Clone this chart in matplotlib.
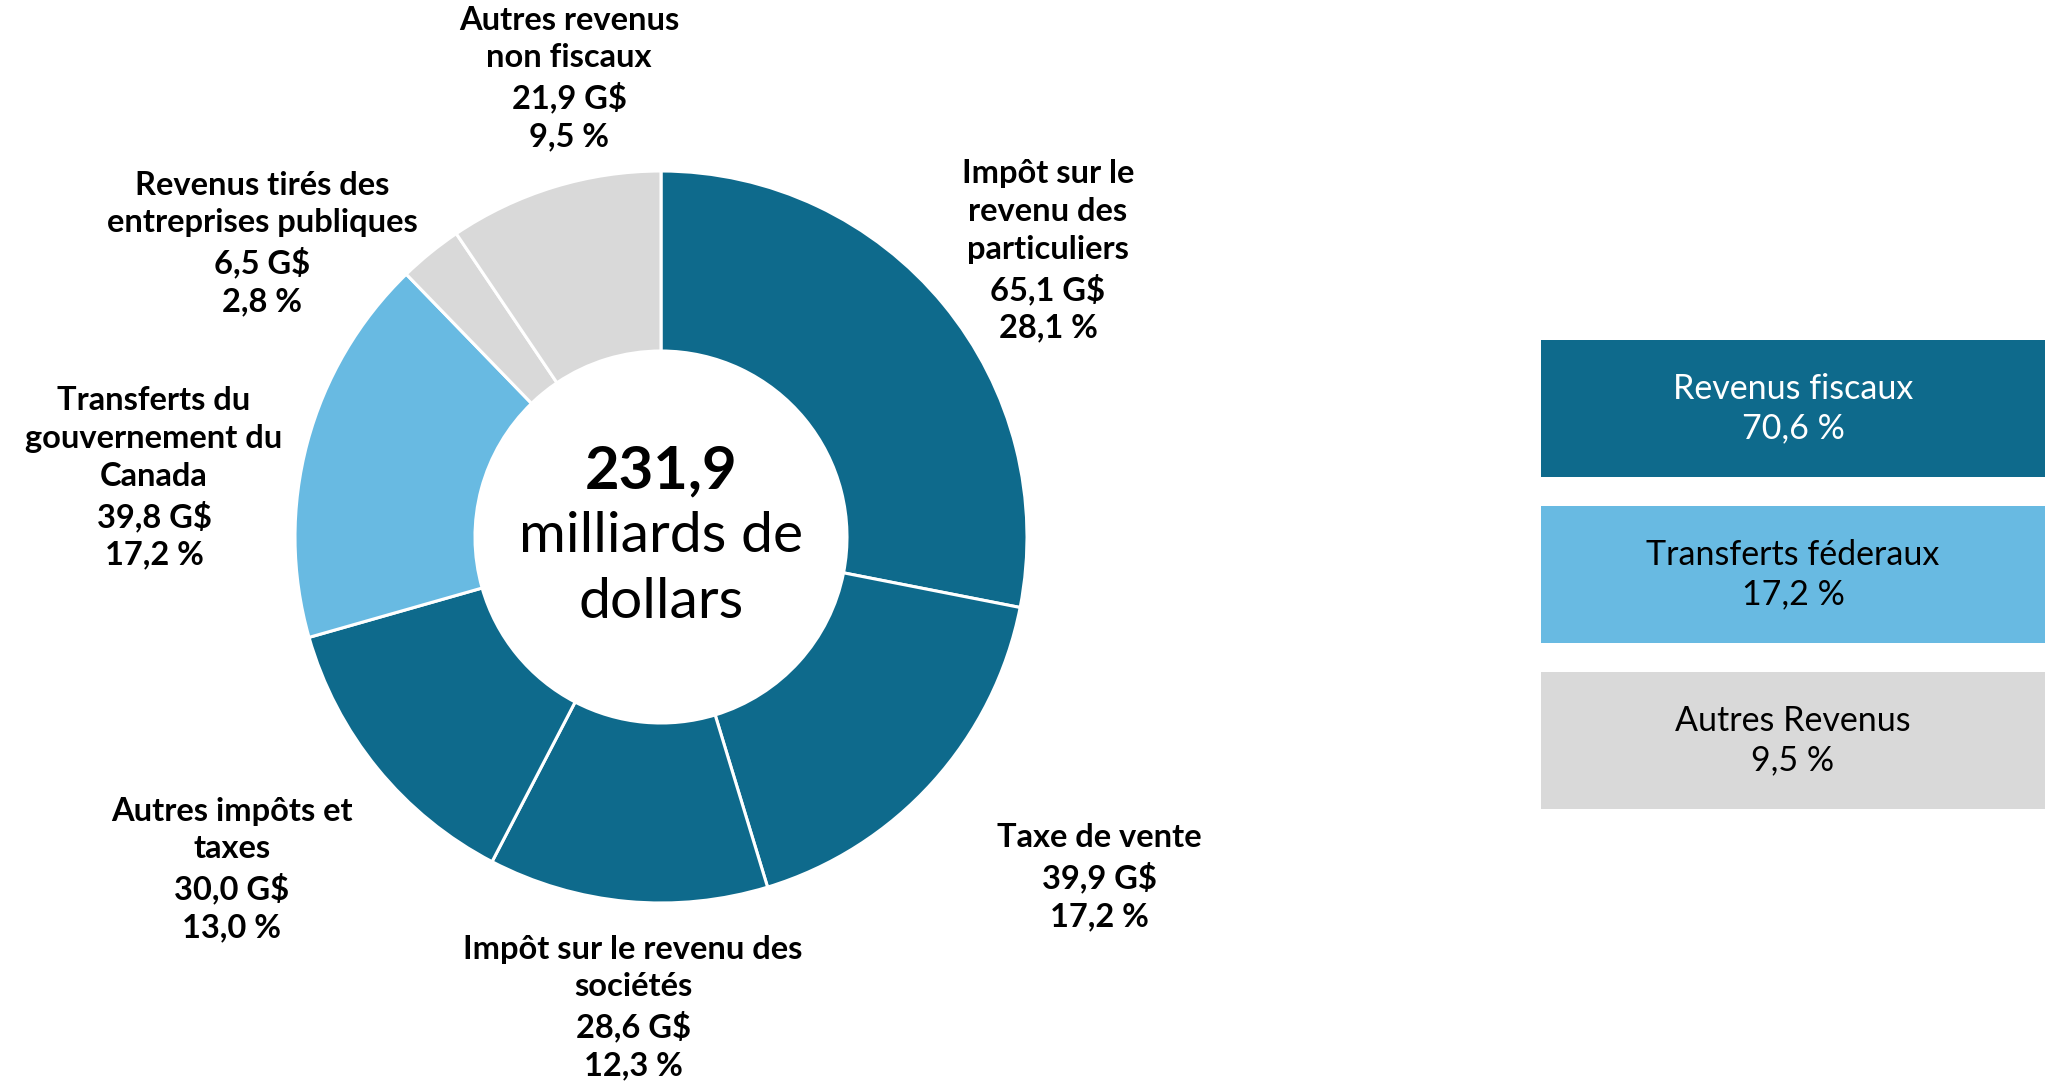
"""Donut: répartition des revenus (231,9 G$) + legend boxes by group."""
import matplotlib
matplotlib.use("Agg")
import matplotlib.pyplot as plt
from matplotlib.patches import Rectangle

W, H = 2052, 1084

# data, clockwise from 12 o'clock
names = ["Impôt sur le\nrevenu des\nparticuliers",
         "Taxe de vente",
         "Impôt sur le revenu des\nsociétés",
         "Autres impôts et\ntaxes",
         "Transferts du\ngouvernement du\nCanada",
         "Revenus tirés des\nentreprises publiques",
         "Autres revenus\nnon fiscaux"]
values = [65.1, 39.9, 28.6, 30.0, 39.8, 6.5, 21.9]
shares = ["28,1", "17,2", "12,3", "13,0", "17,2", "2,8", "9,5"]
groups = ["fisc", "fisc", "fisc", "fisc", "fed", "autre", "autre"]
total = "231,9"

group_names = ["Revenus fiscaux", "Transferts féderaux", "Autres Revenus"]
group_shares = ["70,6", "17,2", "9,5"]

colors = {"fisc": "#0e6a8c", "fed": "#68bae2", "autre": "#d9d9d9"}
text_col = {"fisc": "white", "fed": "black", "autre": "black"}
gkeys = ["fisc", "fed", "autre"]

# centre of first label line (x, y) in pixels, y from top
label_pos = [(1048, 173), (1099, 838), (633, 949), (232, 811),
             (154, 400), (262, 185), (569, 20)]
LINE = 39  # px between label lines

LBL_FONT = "Lato"
BOX_FONT = "Lato"

fig = plt.figure(figsize=(W / 100, H / 100), dpi=100)
ax = fig.add_axes([0, 0, 1, 1])


def fy(y):
    return H - y


cx, cy, r_out, r_in = 661, 537, 366, 186
ax.pie(values, colors=[colors[g] for g in groups], startangle=90,
       counterclock=False, center=(cx, fy(cy)), radius=r_out,
       wedgeprops=dict(width=r_out - r_in, edgecolor="white", linewidth=2.2))
ax.set_xlim(0, W); ax.set_ylim(0, H)
ax.set_aspect("equal"); ax.axis("off")

for name, v, s, (x, y) in zip(names, values, shares, label_pos):
    txt = f"{name}\n{v:.1f}".replace(".", ",") + " G$\n" + f"{s} %"
    n = txt.count("\n")
    ax.text(x, fy(y + n * LINE / 2), txt, ha="center", va="center",
            fontsize=23.5, fontweight="bold", family=LBL_FONT,
            linespacing=1.36, color="black")

# centre text
ax.text(cx, fy(471), total, ha="center", va="center", fontsize=43,
        fontweight="bold", family=LBL_FONT)
ax.text(cx, fy(537), "milliards de", ha="center", va="center", fontsize=41,
        family=LBL_FONT)
ax.text(cx, fy(602), "dollars", ha="center", va="center", fontsize=41,
        family=LBL_FONT)

# legend boxes
box_x0, box_x1 = 1541, 2045
box_tops = [340, 506, 672]
box_h = 137
for g, gname, gs, top in zip(gkeys, group_names, group_shares, box_tops):
    ax.add_patch(Rectangle((box_x0, fy(top + box_h)), box_x1 - box_x0, box_h,
                           facecolor=colors[g], edgecolor="none"))
    mid = (box_x0 + box_x1) / 2
    ax.text(mid, fy(top + 49), gname, ha="center", va="center", fontsize=24.5,
            family=BOX_FONT, color=text_col[g])
    ax.text(mid, fy(top + 88), f"{gs} %", ha="center", va="center",
            fontsize=24.5, family=BOX_FONT, color=text_col[g])

fig.savefig("out.png", dpi=100)
